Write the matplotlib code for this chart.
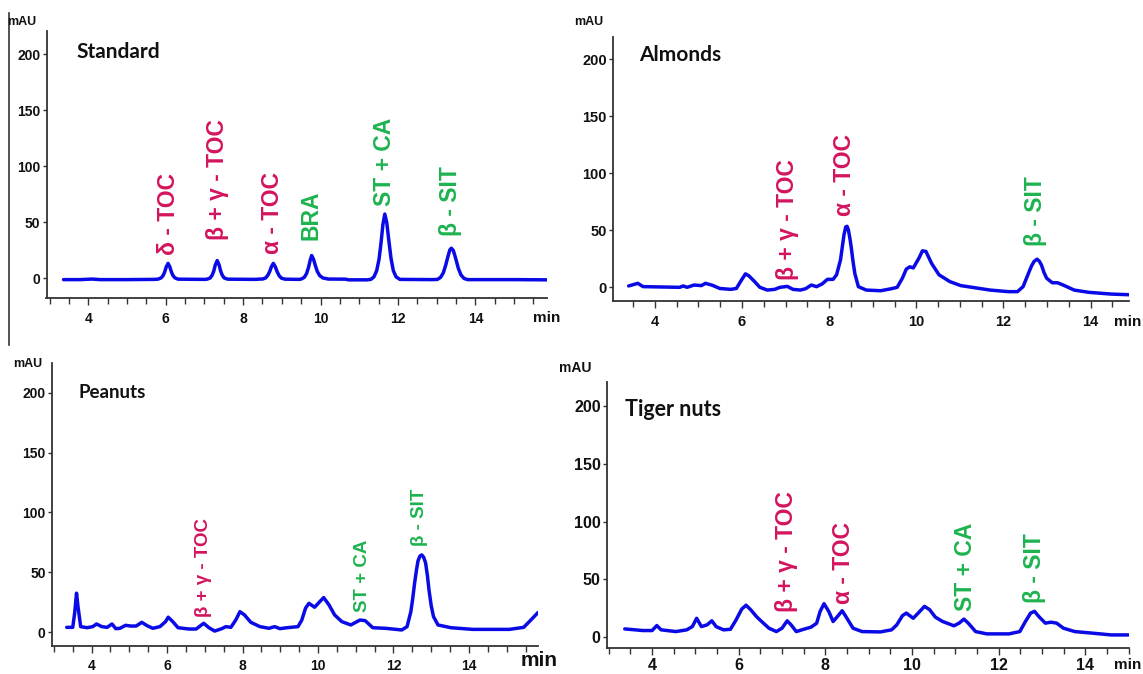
import matplotlib
matplotlib.use("Agg")
import matplotlib.pyplot as plt
from matplotlib.lines import Line2D
from matplotlib.ticker import MultipleLocator

# ---------------- data ----------------
std_t = [3.36, 3.8, 4.1, 4.3, 5.0, 5.7,
         5.80, 5.88, 5.93, 5.97, 6.01, 6.06, 6.11, 6.15, 6.19, 6.24, 6.32, 7.0,
         7.07, 7.15, 7.20, 7.24, 7.28, 7.33, 7.38, 7.42, 7.46, 7.51, 7.60, 8.3, 8.45,
         8.50, 8.58, 8.64, 8.69, 8.73, 8.78, 8.83, 8.88, 8.93, 8.99, 9.08, 9.45,
         9.50, 9.58, 9.64, 9.69, 9.73, 9.77, 9.82, 9.87, 9.92, 9.98, 10.06, 10.2,
         10.65, 10.72, 11.2,
         11.30, 11.38, 11.45, 11.51, 11.56, 11.61, 11.66, 11.71, 11.76, 11.82, 11.88,
         11.95, 12.05, 12.9,
         13.02, 13.10, 13.17, 13.23, 13.29, 13.34, 13.38, 13.43, 13.49, 13.56, 13.63,
         13.71, 13.80, 15.0, 15.85]
std_y = [-1.0, -1.0, -0.5, -1.0, -1.0, -0.8,
         -0.6, 0.5, 2.5, 5.5, 10, 13.5, 10, 5.5, 2.5, 0.5, -0.6, -0.8,
         -0.6, 0.5, 3, 6.5, 12, 16, 12, 6.5, 3, 0.5, -0.6, -0.8, -0.5,
         -0.5, 0.5, 3, 6.5, 10.5, 13.5, 10.5, 6, 2.5, 0.3, -0.6, -0.8,
         -0.5, 1, 4.5, 10, 16, 20.5, 17, 11, 6, 2.5, 0.5, -0.5,
         -0.6, -1.2, -1.2,
         -0.8, 1.5, 7, 17, 31, 48, 57.5, 50, 35, 18, 7,
         1.5, -0.8, -1.0,
         -0.8, 1, 5, 11.5, 19.5, 25.5, 27, 25, 18, 9, 3,
         0, -1, -1.0, -1.2]

alm_t = [3.40, 3.61, 3.73, 4.57, 4.65, 4.74, 4.90, 5.07, 5.16, 5.32, 5.49, 5.74,
         5.87, 5.99, 6.08, 6.16, 6.29, 6.41, 6.58, 6.75, 6.87, 7.04, 7.17, 7.34,
         7.46, 7.59, 7.71, 7.84, 7.96, 8.09, 8.17, 8.26, 8.30, 8.34, 8.38, 8.41,
         8.44, 8.48, 8.51, 8.55, 8.59, 8.67, 8.85, 9.18, 9.43, 9.56, 9.68, 9.77,
         9.85, 9.93, 10.06, 10.14, 10.22, 10.35, 10.52, 10.77, 11.02, 11.28,
         11.69, 12.11, 12.32, 12.45, 12.57, 12.64, 12.70, 12.77, 12.82, 12.87,
         12.93, 12.99, 13.12, 13.24, 13.37, 13.62, 13.96, 14.46, 14.88]
alm_y = [1.2, 3.5, 0.6, 0.0, 1.2, 0.0, 2.0, 1.5, 3.5, 1.8, -1.0, -1.8,
         -1.0, 6.5, 11.8, 10.0, 5.0, 0.0, -2.4, -1.8, 0.0, 0.8, -1.8, -2.4,
         -1.2, 2.0, 0.6, 3.0, 7.0, 7.0, 11.0, 24.0, 35.0, 46.0, 53.0, 53.5,
         50.6, 42.0, 34.0, 22.0, 12.0, 0.6, -2.4, -3.0, -1.2, 0.0, 8.0, 16.0,
         18.0, 17.0, 25.6, 32.0, 31.5, 21.0, 11.0, 5.0, 1.5, 0.0,
         -2.4, -3.8, -3.8, 0.6, 12.0, 18.5, 22.6, 24.7, 23.0, 19.7,
         13.0, 8.0, 4.0, 4.0, 2.0, -2.4, -4.4, -5.9, -6.5]

pea_t = [3.34, 3.50, 3.55, 3.60, 3.64, 3.71, 3.88, 4.03, 4.13, 4.27, 4.41, 4.54,
         4.64, 4.75, 4.90, 5.04, 5.18, 5.33, 5.47, 5.62, 5.81, 5.96, 6.03, 6.15,
         6.29, 6.58, 6.77, 6.97, 7.11, 7.26, 7.45, 7.56, 7.69, 7.82, 7.93, 8.05,
         8.22, 8.46, 8.70, 8.85, 8.99, 9.18, 9.47, 9.57, 9.67, 9.76, 9.91, 10.05,
         10.15, 10.29, 10.44, 10.63, 10.87, 11.11, 11.25, 11.45, 11.78, 11.98,
         12.22, 12.36, 12.46, 12.51, 12.56, 12.61, 12.65, 12.70, 12.75, 12.80,
         12.85, 12.90, 12.94, 13.00, 13.06, 13.18,
         13.52, 14.10, 15.07, 15.45, 15.64, 15.83]
pea_y = [3.9, 3.9, 15.7, 32.5, 21.0, 4.5, 3.6, 4.5, 6.7, 4.5, 3.9, 6.7,
         2.8, 3.1, 5.6, 5.0, 5.0, 8.1, 5.3, 3.1, 4.5, 8.7, 12.4, 8.7,
         3.6, 2.5, 2.5, 7.3, 3.6, 0.8, 2.8, 4.5, 3.9, 10.0, 17.0, 14.3,
         8.1, 4.5, 3.1, 4.5, 2.8, 3.6, 4.5, 10.0, 20.0, 24.0, 20.7, 25.5,
         28.8, 22.7, 14.3, 8.7, 5.9, 10.0, 9.5, 3.6, 3.1, 2.5,
         1.7, 4.5, 17.0, 28.0, 41.0, 52.0, 59.5, 63.5, 64.5, 62.5,
         57.9, 47.0, 35.4, 22.0, 12.9, 5.9,
         3.6, 2.2, 2.2, 3.9, 10.0, 16.3]

tig_t = [3.37, 3.79, 4.00, 4.11, 4.21, 4.55, 4.80, 4.93, 5.03, 5.14, 5.27, 5.38,
         5.48, 5.65, 5.81, 5.94, 6.07, 6.17, 6.28, 6.41, 6.53, 6.70, 6.87, 7.00,
         7.12, 7.21, 7.33, 7.50, 7.67, 7.80, 7.88, 7.97, 8.08, 8.18, 8.28, 8.39,
         8.50, 8.64, 8.85, 9.27, 9.53, 9.65, 9.78, 9.87, 10.03, 10.16, 10.29,
         10.41, 10.54, 10.71, 10.97, 11.09, 11.20, 11.30, 11.47, 11.73, 12.24,
         12.49, 12.62, 12.74, 12.83, 12.93, 13.08, 13.21, 13.34, 13.50, 13.76,
         14.18, 14.60, 15.00]
tig_y = [7.2, 5.8, 5.8, 10.1, 6.4, 4.9, 6.4, 9.2, 16.4, 9.2, 10.7, 14.2,
         9.2, 6.4, 6.9, 15.0, 24.3, 27.7, 23.7, 17.9, 13.6, 7.8, 4.9, 7.8,
         14.2, 10.7, 4.9, 6.9, 8.7, 12.1, 22.3, 29.0, 22.3, 13.6, 17.9, 22.9,
         16.4, 7.8, 4.9, 4.6, 6.4, 10.7, 18.6, 20.9, 16.4, 21.5, 26.7,
         23.8, 17.4, 13.6, 9.9, 12.2, 15.7, 12.2, 4.9, 2.9, 2.9,
         4.9, 13.6, 20.9, 22.4, 17.9, 12.2, 13.0, 12.2, 7.8, 4.9,
         3.5, 2.0, 2.0]

# peak labels: text, compound class, retention time (min)
std_labels = ["δ - TOC", "β + γ - TOC", "α - TOC", "BRA", "ST + CA", "β - SIT"]
std_class = ["toc", "toc", "toc", "ste", "ste", "ste"]
std_rt = [6.06, 7.33, 8.76, 9.75, 11.65, 13.36]

alm_labels = ["β + γ - TOC", "α - TOC", "β - SIT"]
alm_class = ["toc", "toc", "ste"]
alm_rt = [7.04, 8.36, 12.74]

pea_labels = ["β + γ - TOC", "ST + CA", "β - SIT"]
pea_class = ["toc", "ste", "ste"]
pea_rt = [6.97, 11.19, 12.70]

tig_labels = ["β + γ - TOC", "α - TOC", "ST + CA", "β - SIT"]
tig_class = ["toc", "toc", "ste", "ste"]
tig_rt = [7.11, 8.41, 11.24, 12.82]

panel_titles = ["Standard", "Almonds", "Peanuts", "Tiger nuts"]
y_ticks = [0, 50, 100, 150, 200]
x_ticks = [4, 6, 8, 10, 12, 14]

# ---------------- styling / layout ----------------
W, H = 1143, 674
LINE = "#0A0AE6"
CLASS_COLOR = {"toc": "#D3145F", "ste": "#1DB34F"}
NARROW = ["Liberation Sans Narrow", "Liberation Sans", "DejaVu Sans"]
ARIAL = ["Liberation Sans", "DejaVu Sans"]
TITLEF = ["Lato", "Open Sans", "DejaVu Sans"]

fig = plt.figure(figsize=(W / 100, H / 100), dpi=100)


def fx(px):
    return px / W


def fy(py):
    return 1 - py / H


panels = [
    dict(t=std_t, y=std_y, labels=std_labels, cls=std_class, rt=std_rt,
         box=(46.5, 31, 547, 298), xlim=(2.92, 15.85), ylim=(-17.4, 220.8),
         label_base=[20.7, 34, 21.6, 34, 65, 37.6], lsize=16.5, tsize=10,
         xpad=5, title_xy=(76, 52), title_size=15, mau_xy=(22, 22),
         mau_size=9, min_xy=(560, 318), min_ha="right", min_size=11),
    dict(t=alm_t, y=alm_y, labels=alm_labels, cls=alm_class, rt=alm_rt,
         box=(613, 37, 1129, 301), xlim=(3.04, 14.88), ylim=(-12, 219.6),
         label_base=[6.4, 62.6, 36.3], lsize=16.5, tsize=10.5,
         xpad=5, title_xy=(639, 55), title_size=15, mau_xy=(589, 22),
         mau_size=9, min_xy=(1141, 322), min_ha="right", min_size=11),
    dict(t=pea_t, y=pea_y, labels=pea_labels, cls=pea_class, rt=pea_rt,
         box=(52, 363, 538, 646), xlim=(2.95, 15.83), ylim=(-11.7, 225),
         label_base=[12.9, 17, 71.7], lsize=13.5, tsize=10,
         xpad=4, title_xy=(78, 393), title_size=13.5, mau_xy=(28, 364),
         mau_size=9, min_xy=(558, 661), min_ha="right", min_size=15),
    dict(t=tig_t, y=tig_y, labels=tig_labels, cls=tig_class, rt=tig_rt,
         box=(607, 382, 1128.5, 648), xlim=(2.96, 15.0), ylim=(-9.3, 220.7),
         label_base=[21.4, 29, 23, 30], lsize=16.5, tsize=11.5,
         xpad=2.5, title_xy=(625, 410), title_size=15.5, mau_xy=(575, 368),
         mau_size=10, min_xy=(1141, 665), min_ha="right", min_size=11),
]

for title, p in zip(panel_titles, panels):
    l, t, r, b = p["box"]
    ax = fig.add_axes([fx(l), fy(b), fx(r - l), (b - t) / H])
    ax.plot(p["t"], p["y"], color=LINE, lw=2.5, solid_joinstyle="round",
            solid_capstyle="round", zorder=3)
    ax.set_xlim(*p["xlim"])
    ax.set_ylim(*p["ylim"])
    for s in ("top", "right"):
        ax.spines[s].set_visible(False)
    for s in ("left", "bottom"):
        ax.spines[s].set_color("#333333")
        ax.spines[s].set_linewidth(1.3)
    ax.set_xticks(x_ticks)
    ax.xaxis.set_minor_locator(MultipleLocator(0.5))
    ax.set_yticks(y_ticks)
    ax.tick_params(axis="x", which="major", length=5, width=1, color="#333333",
                   pad=p["xpad"])
    ax.tick_params(axis="x", which="minor", length=4, width=1, color="#333333")
    ax.tick_params(axis="y", which="major", length=3, width=1, color="#333333",
                   pad=1.5)
    for lab in ax.get_xticklabels() + ax.get_yticklabels():
        lab.set_fontfamily(NARROW)
        lab.set_fontweight("bold")
        lab.set_fontsize(p["tsize"])
        lab.set_color("#111111")
    ax.patch.set_alpha(0)

    for txt, c, rt, yb in zip(p["labels"], p["cls"], p["rt"], p["label_base"]):
        ax.text(rt, yb, txt, rotation=90, ha="center", va="bottom",
                color=CLASS_COLOR[c], fontsize=p["lsize"], fontweight="bold",
                family=ARIAL, zorder=4)

    fig.text(fx(p["title_xy"][0]), fy(p["title_xy"][1]), title,
             ha="left", va="center", fontsize=p["title_size"],
             fontweight="bold", family=TITLEF, color="#111111")
    fig.text(fx(p["mau_xy"][0]), fy(p["mau_xy"][1]), "mAU", ha="center",
             va="center", fontsize=p["mau_size"], fontweight="bold",
             family=NARROW, color="#111111")
    fig.text(fx(p["min_xy"][0]), fy(p["min_xy"][1]), "min",
             ha=p["min_ha"], va="center", fontsize=p["min_size"],
             fontweight="bold", family=NARROW, color="#111111")

# thin separator line at the far left of the figure
fig.add_artist(Line2D([fx(8.5), fx(8.5)], [fy(13), fy(345)], color="#333333",
                      lw=1.2))

fig.savefig("out.png", dpi=100)
